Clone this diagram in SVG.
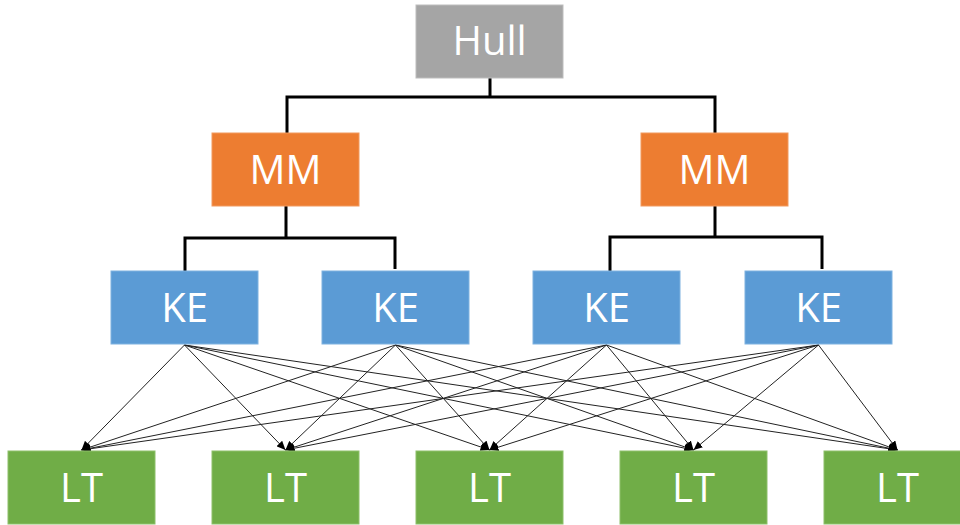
<svg xmlns="http://www.w3.org/2000/svg" width="960" height="525" viewBox="0 0 960 525">
<style>
.box{stroke-width:1}
.hull{fill:#A5A5A5;stroke:#BDBDBD}
.mm{fill:#ED7D31;stroke:#F19A5E}
.ke{fill:#5B9BD5;stroke:#7FB2E0}
.lt{fill:#70AD47;stroke:#8DC06A}
.lbl{font-family:"Open Sans","Liberation Sans",sans-serif;font-size:40px;fill:#fff;text-anchor:middle}
.tree{fill:none;stroke:#000;stroke-width:3;stroke-linejoin:miter}
.arr{stroke:#222;stroke-width:1;marker-end:url(#ah)}
</style>
<defs>
<marker id="ah" markerUnits="userSpaceOnUse" markerWidth="10" markerHeight="8" refX="9" refY="4" orient="auto">
<path d="M0,0 L9,4 L0,8 Z" fill="#000"/>
</marker>
</defs>
<g id="connectors">
<path class="tree" d="M490,78 V97 M287,133 V97 H715 V133"/>
<path class="tree" d="M286,206 V238 M185,271 V238 H395 V269"/>
<path class="tree" d="M715,206 V237 M610,272 V237 H822 V269"/>
<g id="arrows">
<line class="arr" x1="184.5" y1="345" x2="81.5" y2="450"/>
<line class="arr" x1="184.5" y1="345" x2="285.5" y2="450"/>
<line class="arr" x1="184.5" y1="345" x2="489.5" y2="450"/>
<line class="arr" x1="184.5" y1="345" x2="693.5" y2="450"/>
<line class="arr" x1="184.5" y1="345" x2="897.5" y2="450"/>
<line class="arr" x1="395.5" y1="345" x2="81.5" y2="450"/>
<line class="arr" x1="395.5" y1="345" x2="285.5" y2="450"/>
<line class="arr" x1="395.5" y1="345" x2="489.5" y2="450"/>
<line class="arr" x1="395.5" y1="345" x2="693.5" y2="450"/>
<line class="arr" x1="395.5" y1="345" x2="897.5" y2="450"/>
<line class="arr" x1="606.5" y1="345" x2="81.5" y2="450"/>
<line class="arr" x1="606.5" y1="345" x2="285.5" y2="450"/>
<line class="arr" x1="606.5" y1="345" x2="489.5" y2="450"/>
<line class="arr" x1="606.5" y1="345" x2="693.5" y2="450"/>
<line class="arr" x1="606.5" y1="345" x2="897.5" y2="450"/>
<line class="arr" x1="818.5" y1="345" x2="81.5" y2="450"/>
<line class="arr" x1="818.5" y1="345" x2="285.5" y2="450"/>
<line class="arr" x1="818.5" y1="345" x2="489.5" y2="450"/>
<line class="arr" x1="818.5" y1="345" x2="693.5" y2="450"/>
<line class="arr" x1="818.5" y1="345" x2="897.5" y2="450"/>
</g>
</g>
<g id="hull"><rect class="box hull" x="416" y="5" width="147" height="73"/><text class="lbl" x="489.5" y="55">Hull</text></g>
<g id="mm1"><rect class="box mm" x="212" y="133" width="147" height="73"/><text class="lbl" x="285.5" y="184">MM</text></g>
<g id="mm2"><rect class="box mm" x="641" y="133" width="147" height="73"/><text class="lbl" x="714.5" y="184">MM</text></g>
<g id="ke1"><rect class="box ke" x="111" y="271" width="147" height="73"/><text class="lbl" x="184.5" y="322">KE</text></g>
<g id="ke2"><rect class="box ke" x="322" y="271" width="147" height="73"/><text class="lbl" x="395.5" y="322">KE</text></g>
<g id="ke3"><rect class="box ke" x="533" y="271" width="147" height="73"/><text class="lbl" x="606.5" y="322">KE</text></g>
<g id="ke4"><rect class="box ke" x="745" y="271" width="147" height="73"/><text class="lbl" x="818.5" y="322">KE</text></g>
<g id="lt1"><rect class="box lt" x="8" y="451" width="147" height="73"/><text class="lbl" x="81.5" y="502">LT</text></g>
<g id="lt2"><rect class="box lt" x="212" y="451" width="147" height="73"/><text class="lbl" x="285.5" y="502">LT</text></g>
<g id="lt3"><rect class="box lt" x="416" y="451" width="147" height="73"/><text class="lbl" x="489.5" y="502">LT</text></g>
<g id="lt4"><rect class="box lt" x="620" y="451" width="147" height="73"/><text class="lbl" x="693.5" y="502">LT</text></g>
<g id="lt5"><rect class="box lt" x="824" y="451" width="147" height="73"/><text class="lbl" x="897.5" y="502">LT</text></g>
</svg>
